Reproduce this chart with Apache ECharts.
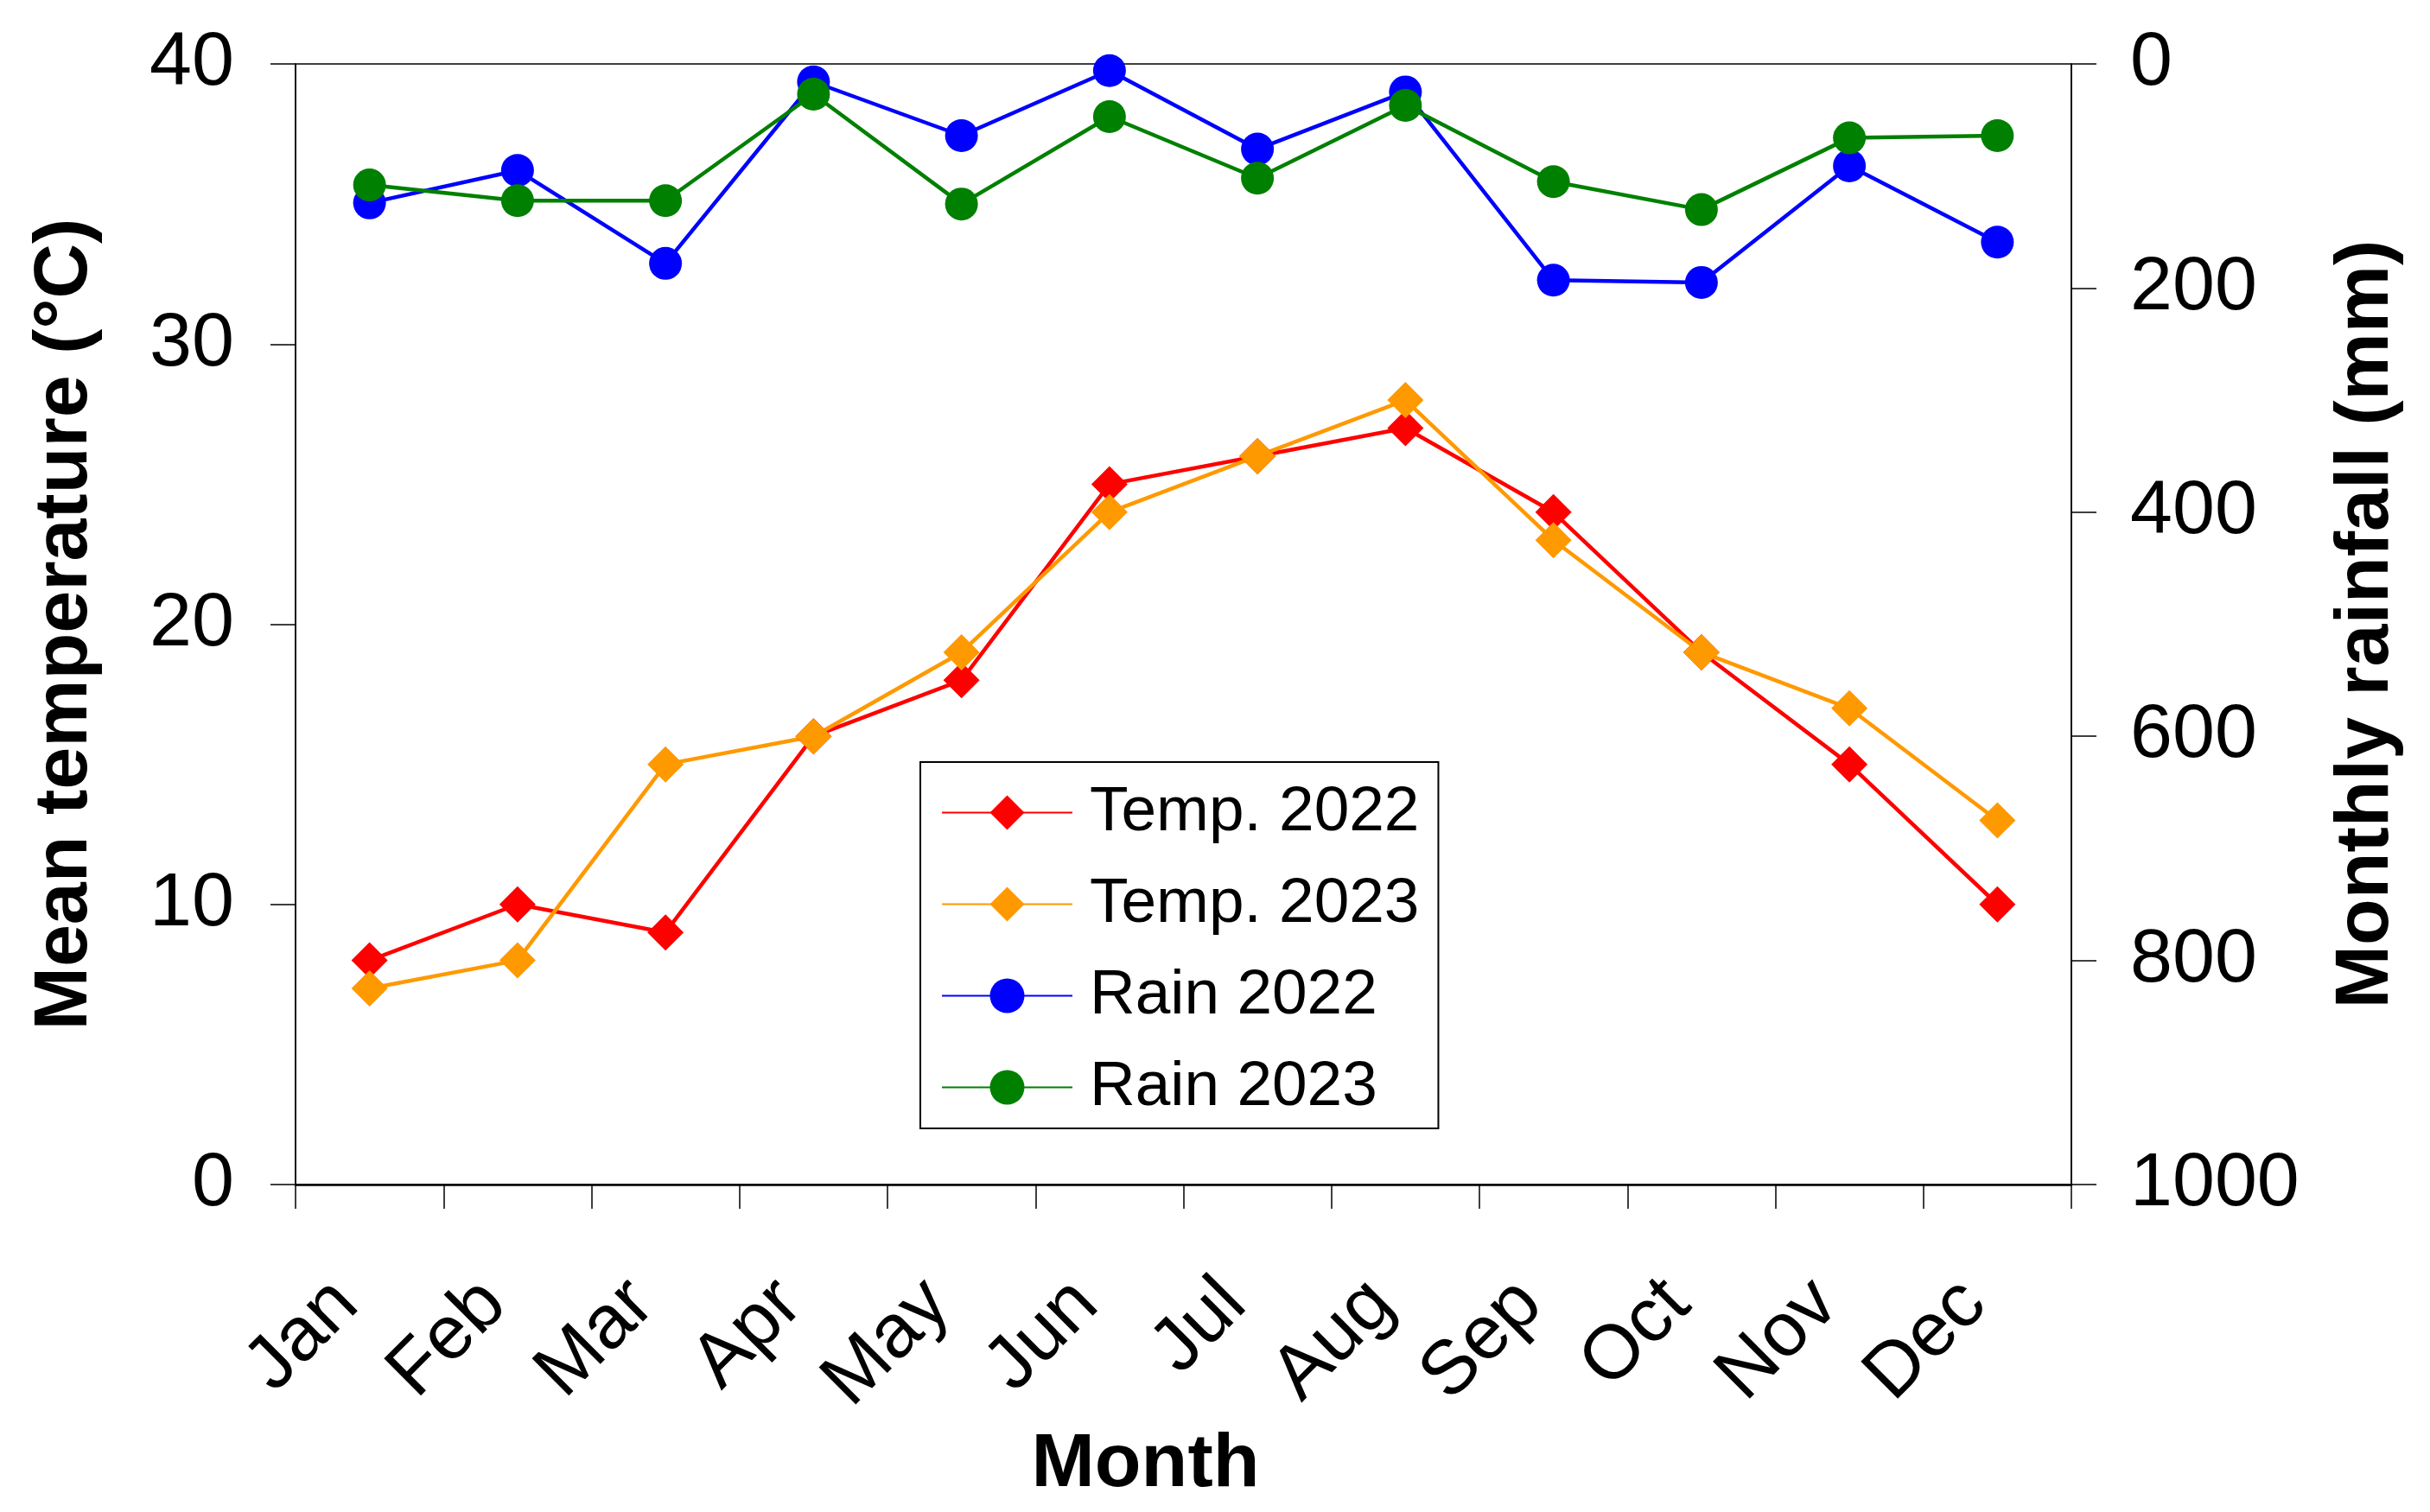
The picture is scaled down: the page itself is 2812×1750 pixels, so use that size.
<!DOCTYPE html>
<html>
<head>
<meta charset="utf-8">
<script src="https://cdn.jsdelivr.net/npm/echarts@6/dist/echarts.min.js"></script>
<style>
html,body{margin:0;padding:0;background:#fff;}
#chart{width:2812px;height:1750px;}
</style>
</head>
<body>
<div id="chart"></div>
<script>
const months = ['Jan','Feb','Mar','Apr','May','Jun','Jul','Aug','Sep','Oct','Nov','Dec'];
const temp2022 = [8, 10, 9, 16, 18, 25, 26, 27, 24, 19, 15, 10];
const temp2023 = [7, 8, 15, 16, 19, 24, 26, 28, 23, 19, 17, 13];
const rain2022 = [124, 95, 178, 16, 64, 6, 76, 25, 193, 195, 91, 159];
const rain2023 = [108, 122, 122, 27, 125, 47, 102, 37, 105, 130, 66, 64];
const tempTicks = [0, 10, 20, 30, 40];
const rainTicks = [0, 200, 400, 600, 800, 1000];

const FONT = 'Liberation Sans, Arial, Helvetica, sans-serif';
const chart = echarts.init(document.getElementById('chart'), null, {renderer: 'canvas'});

function lineSeries(name, data, color, symbol, size, axisIndex) {
  return {
    name: name, type: 'line', data: data, yAxisIndex: axisIndex,
    symbol: symbol, symbolSize: size,
    lineStyle: {color: color, width: 4.5},
    itemStyle: {color: color, borderWidth: 0},
    emphasis: {disabled: true},
    animation: false
  };
}

chart.setOption({
  animation: false,
  backgroundColor: '#fff',
  textStyle: {fontFamily: FONT},
  grid: {left: 342, right: 415, top: 74, bottom: 379, show: true, borderColor: '#000', borderWidth: 1.5, backgroundColor: 'transparent'},
  legend: {
    orient: 'vertical', left: 1065, top: 882,
    backgroundColor: '#fff', borderColor: '#000', borderWidth: 2,
    padding: [22, 22, 11, 24],
    itemWidth: 151, itemHeight: 50, itemGap: 33,
    textStyle: {fontSize: 73, color: '#000', fontFamily: FONT, padding: [0, 0, 0, 15]},
    data: ['Temp. 2022', 'Temp. 2023', 'Rain 2022', 'Rain 2023']
  },
  xAxis: {
    type: 'category', data: months, boundaryGap: true,
    name: 'Month', nameLocation: 'middle', nameGap: 279,
    nameTextStyle: {fontSize: 88, fontWeight: 'bold', color: '#000', fontFamily: FONT, padding: [0, 88, 0, 0]},
    axisLine: {show: true, lineStyle: {color: '#000', width: 2.5}},
    axisTick: {show: true, inside: false, length: 28, lineStyle: {color: '#000', width: 1.5}},
    axisLabel: {rotate: 45, fontSize: 88, color: '#000', fontFamily: FONT, margin: 98, interval: 0, padding: [0, 38, 0, 0]},
    splitLine: {show: false}
  },
  yAxis: [
    {
      type: 'value', min: 0, max: 40, interval: 10, position: 'left',
      name: 'Mean temperature (°C)', nameLocation: 'middle', nameGap: 222,
      nameTextStyle: {fontSize: 88, fontWeight: 'bold', color: '#000', fontFamily: FONT},
      axisLine: {show: true, lineStyle: {color: '#000', width: 1.5}},
      axisTick: {show: true, inside: false, length: 29, lineStyle: {color: '#000', width: 1.5}},
      axisLabel: {fontSize: 88, color: '#000', fontFamily: FONT, margin: 71,
        formatter: v => tempTicks.indexOf(v) >= 0 ? String(v) : ''},
      splitLine: {show: false}
    },
    {
      type: 'value', min: 0, max: 1000, interval: 200, inverse: true, position: 'right',
      name: 'Monthly rainfall (mm)', nameLocation: 'middle', nameGap: 298,
      nameTextStyle: {fontSize: 88, fontWeight: 'bold', color: '#000', fontFamily: FONT},
      axisLine: {show: true, lineStyle: {color: '#000', width: 1.5}},
      axisTick: {show: true, inside: false, length: 29, lineStyle: {color: '#000', width: 1.5}},
      axisLabel: {fontSize: 88, color: '#000', fontFamily: FONT, margin: 68,
        formatter: v => rainTicks.indexOf(v) >= 0 ? String(v) : ''},
      splitLine: {show: false}
    }
  ],
  series: [
    lineSeries('Temp. 2022', temp2022, '#FF0000', 'diamond', 42, 0),
    lineSeries('Temp. 2023', temp2023, '#FF9900', 'diamond', 42, 0),
    lineSeries('Rain 2022', rain2022, '#0000FF', 'circle', 38, 1),
    lineSeries('Rain 2023', rain2023, '#008000', 'circle', 38, 1)
  ]
});
</script>
</body>
</html>
